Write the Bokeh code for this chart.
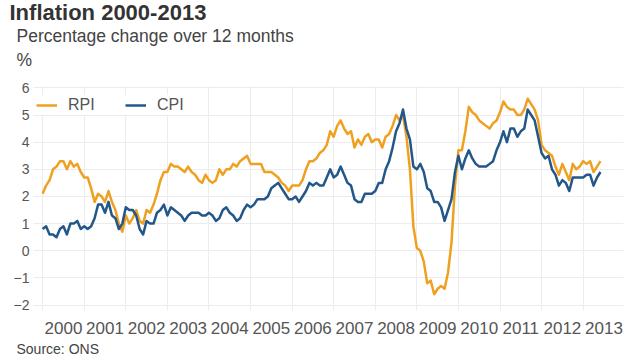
from bokeh.plotting import figure
from bokeh.models import Range1d, FixedTicker, Title, Legend, LegendItem
from bokeh.embed import file_html
from bokeh.resources import INLINE

# ---------------- data (monthly, Jan 2000 - Jun 2013) ----------------
rpi_2000 = [2.1, 2.4, 2.6, 3.0, 3.1, 3.3, 3.3, 3.0, 3.3, 3.1, 3.2, 2.9]
rpi_2001 = [2.7, 2.7, 2.3, 1.8, 2.1, 2.0, 1.8, 2.2, 1.8, 1.5, 1.0, 0.7]
rpi_2002 = [1.3, 1.0, 1.2, 1.5, 1.1, 1.0, 1.5, 1.4, 1.7, 2.1, 2.6, 2.9]
rpi_2003 = [2.9, 3.2, 3.1, 3.1, 3.0, 2.9, 3.1, 2.9, 2.8, 2.6, 2.5, 2.8]
rpi_2004 = [2.6, 2.5, 2.6, 3.0, 2.8, 3.0, 3.0, 3.2, 3.1, 3.3, 3.4, 3.5]
rpi_2005 = [3.2, 3.2, 3.2, 3.2, 2.9, 2.9, 2.9, 2.8, 2.7, 2.5, 2.4, 2.2]
rpi_2006 = [2.4, 2.4, 2.4, 2.6, 3.0, 3.3, 3.3, 3.4, 3.6, 3.7, 3.9, 4.4]
rpi_2007 = [4.2, 4.6, 4.8, 4.5, 4.3, 4.4, 3.8, 4.1, 3.9, 4.2, 4.3, 4.0]
rpi_2008 = [4.1, 4.1, 3.8, 4.2, 4.3, 4.6, 5.0, 4.8, 5.0, 4.2, 3.0, 0.9]
rpi_2009 = [0.1, 0.0, -0.4, -1.2, -1.1, -1.6, -1.4, -1.3, -1.4, -0.8, 0.3, 2.4]
rpi_2010 = [3.7, 3.7, 4.4, 5.3, 5.1, 5.0, 4.8, 4.7, 4.6, 4.5, 4.7, 4.8]
rpi_2011 = [5.1, 5.5, 5.3, 5.2, 5.2, 5.0, 5.0, 5.2, 5.6, 5.4, 5.2, 4.8]
rpi_2012 = [3.9, 3.7, 3.6, 3.5, 3.1, 2.8, 3.2, 2.9, 2.6, 3.2, 3.0, 3.1]
rpi_2013 = [3.3, 3.2, 3.3, 2.9, 3.1, 3.3]

cpi_2000 = [0.8, 0.9, 0.6, 0.6, 0.5, 0.8, 0.9, 0.6, 1.0, 1.0, 1.1, 0.8]
cpi_2001 = [0.9, 0.8, 0.9, 1.2, 1.7, 1.7, 1.4, 1.8, 1.3, 1.2, 0.8, 1.0]
cpi_2002 = [1.6, 1.5, 1.5, 1.3, 0.8, 0.6, 1.1, 1.0, 1.0, 1.4, 1.5, 1.7]
cpi_2003 = [1.3, 1.6, 1.5, 1.4, 1.3, 1.1, 1.3, 1.4, 1.4, 1.4, 1.3, 1.3]
cpi_2004 = [1.4, 1.3, 1.1, 1.2, 1.5, 1.6, 1.4, 1.3, 1.1, 1.2, 1.5, 1.7]
cpi_2005 = [1.6, 1.7, 1.9, 1.9, 1.9, 2.0, 2.3, 2.4, 2.5, 2.3, 2.1, 1.9]
cpi_2006 = [1.9, 2.0, 1.8, 2.0, 2.2, 2.5, 2.4, 2.5, 2.4, 2.4, 2.7, 3.0]
cpi_2007 = [2.7, 2.8, 3.1, 2.8, 2.5, 2.4, 1.9, 1.8, 1.8, 2.1, 2.1, 2.1]
cpi_2008 = [2.2, 2.5, 2.5, 3.0, 3.3, 3.8, 4.4, 4.7, 5.2, 4.5, 4.1, 3.1]
cpi_2009 = [3.0, 3.2, 2.9, 2.3, 2.2, 1.8, 1.8, 1.6, 1.1, 1.5, 1.9, 2.9]
cpi_2010 = [3.5, 3.0, 3.4, 3.7, 3.4, 3.2, 3.1, 3.1, 3.1, 3.2, 3.3, 3.7]
cpi_2011 = [4.0, 4.4, 4.0, 4.5, 4.5, 4.2, 4.4, 4.5, 5.2, 5.0, 4.8, 4.2]
cpi_2012 = [3.6, 3.4, 3.5, 3.0, 2.8, 2.4, 2.6, 2.5, 2.2, 2.7, 2.7, 2.7]
cpi_2013 = [2.7, 2.8, 2.8, 2.4, 2.7, 2.9]

start_year = 2000
year_ticks = list(range(2000, 2014))
year_labels = [str(y) for y in year_ticks]
y_ticks = [-2, -1, 0, 1, 2, 3, 4, 5, 6]

rpi = (rpi_2000 + rpi_2001 + rpi_2002 + rpi_2003 + rpi_2004 + rpi_2005 + rpi_2006
       + rpi_2007 + rpi_2008 + rpi_2009 + rpi_2010 + rpi_2011 + rpi_2012 + rpi_2013)
cpi = (cpi_2000 + cpi_2001 + cpi_2002 + cpi_2003 + cpi_2004 + cpi_2005 + cpi_2006
       + cpi_2007 + cpi_2008 + cpi_2009 + cpi_2010 + cpi_2011 + cpi_2012 + cpi_2013)
months = [start_year + i / 12.0 for i in range(len(rpi))]

ORANGE = "#f0a020"
BLUE = "#235789"
FONT = "Liberation Sans"

p = figure(width=640, height=360, output_backend="svg", toolbar_location=None,
           x_range=Range1d(1999.78, 2013.97), y_range=Range1d(-2.2, 6.05),
           min_border_left=33, min_border_right=17, min_border_top=86,
           min_border_bottom=50)
p.outline_line_color = None
p.background_fill_color = "white"
p.border_fill_color = "white"

# grid
p.xgrid.ticker = FixedTicker(ticks=year_ticks)
p.ygrid.ticker = FixedTicker(ticks=y_ticks)
p.xgrid.grid_line_color = "#ececec"
p.ygrid.grid_line_color = "#ececec"

# axes
p.xaxis.ticker = FixedTicker(ticks=[y + 0.5 for y in year_ticks])
p.xaxis.major_label_overrides = {y + 0.5: lab for y, lab in zip(year_ticks, year_labels)}
p.yaxis.ticker = FixedTicker(ticks=y_ticks)
for ax in (p.xaxis, p.yaxis):
    ax.axis_line_color = None
    ax.major_tick_line_color = None
    ax.minor_tick_line_color = None
    ax.major_tick_out = 0
    ax.major_tick_in = 0
    ax.minor_tick_out = 0
    ax.minor_tick_in = 0
    ax.major_label_text_color = "#555555"
    ax.major_label_text_font = FONT
p.xaxis.major_label_text_font_size = "17px"
p.xaxis.major_label_standoff = 11
p.yaxis.major_label_text_font_size = "14px"
p.yaxis.major_label_standoff = 4

r_rpi = p.line(months, rpi, line_color=ORANGE, line_width=2.5, line_join="round")
r_cpi = p.line(months, cpi, line_color=BLUE, line_width=2.5, line_join="round")

legend = Legend(items=[LegendItem(label="RPI", renderers=[r_rpi]),
                       LegendItem(label="CPI", renderers=[r_cpi])],
                location=(3, 195), orientation="horizontal", margin=0,
                padding=6, spacing=12, glyph_width=21, label_standoff=11,
                label_width=45, label_text_font_size="16px",
                label_text_font=FONT, label_text_color="#555555",
                background_fill_color="white", background_fill_alpha=1.0,
                border_line_color=None)
p.add_layout(legend)

# titles (nearest to the frame first)
p.add_layout(Title(text="Percentage change over 12 months\n%", align="left",
                   vertical_align="top", offset=-17, standoff=29,
                   text_font=FONT, text_font_size="17.5px",
                   text_line_height=1.2, text_font_style="normal",
                   text_color="#444444"), "above")
p.add_layout(Title(text="Inflation 2000-2013", align="left", offset=-24,
                   standoff=-26, text_font=FONT, text_font_size="22px",
                   text_font_style="bold", text_color="#333333"), "above")
p.add_layout(Title(text="Source: ONS", align="left", offset=-17, standoff=4,
                   text_font=FONT, text_font_size="14px",
                   text_font_style="normal", text_color="#444444"), "below")

open("out.html", "w").write(file_html(p, INLINE))
